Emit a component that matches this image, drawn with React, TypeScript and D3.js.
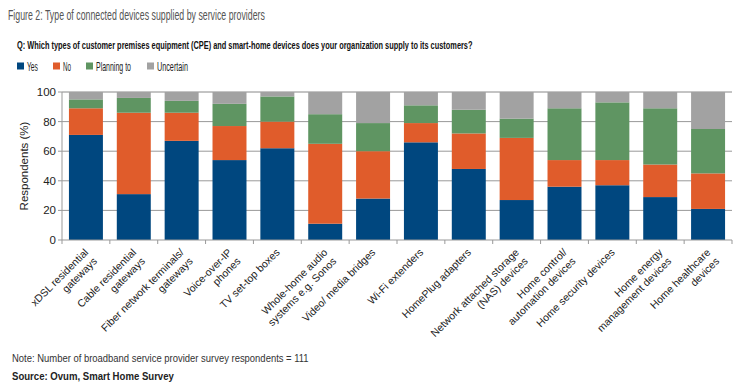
import React, { useLayoutEffect, useRef } from "react";
import * as d3 from "d3";

const categories = [
  ["xDSL residential", "gateways"],
  ["Cable residential", "gateways"],
  ["Fiber network terminals/", "gateways"],
  ["Voice-over-IP", "phones"],
  ["TV set-top boxes"],
  ["Whole-home audio", "systems e.g. Sonos"],
  ["Video/ media bridges"],
  ["Wi-Fi extenders"],
  ["HomePlug adapters"],
  ["Network attached storage", "(NAS) devices"],
  ["Home control/", "automation devices"],
  ["Home security devices"],
  ["Home energy", "management devices"],
  ["Home healthcare", "devices"],
];

const yes = [71, 31, 67, 54, 62, 11, 28, 66, 48, 27, 36, 37, 29, 21];
const no = [18, 55, 19, 23, 18, 54, 32, 13, 24, 42, 18, 17, 22, 24];
const planning = [6, 10, 8, 15, 17, 20, 19, 12, 16, 13, 35, 39, 38, 30];
const uncertain = [5, 4, 6, 8, 3, 15, 21, 9, 12, 18, 11, 7, 11, 25];

const seriesNames = ["Yes", "No", "Planning to", "Uncertain"];
const seriesColors = ["#00477f", "#e05c2b", "#5f9562", "#a2a2a2"];
const yTicks = [0, 20, 40, 60, 80, 100];

const W = 750;
const H = 385;
const margin = { left: 62, right: 18, top: 92, bottom: 145 };
const sans = "Arial, 'Liberation Sans', Helvetica, sans-serif";

// text squeezed horizontally to a given width (the source uses a narrow face)
const FitText = ({ x, y, width, children, ...rest }: any) => {
  const ref = useRef<SVGTextElement>(null);
  useLayoutEffect(() => {
    const el = ref.current;
    if (!el) return;
    el.removeAttribute("transform");
    const len = el.getComputedTextLength();
    const k = len > 0 ? width / len : 1;
    el.setAttribute("transform", `translate(${x},${y}) scale(${k},1)`);
  }, [x, y, width, children]);
  return (
    <text ref={ref} x={0} y={0} transform={`translate(${x},${y})`} fontFamily={sans} {...rest}>
      {children}
    </text>
  );
};

export default function App() {
  const rows = categories.map((c, i) => ({
    key: i,
    Yes: yes[i],
    No: no[i],
    "Planning to": planning[i],
    Uncertain: uncertain[i],
  }));

  const x = d3
    .scaleBand<number>()
    .domain(rows.map((r) => r.key))
    .range([margin.left, W - margin.right])
    .paddingInner(0.29)
    .paddingOuter(0.145);

  const y = d3
    .scaleLinear()
    .domain([0, 100])
    .range([H - margin.bottom, margin.top]);

  const stacked = d3.stack<any>().keys(seriesNames)(rows);

  const step = x.step();
  const x0 = margin.left;
  const x1 = W - margin.right;
  const y0 = y(0);

  const legendX = [17, 53, 86, 147];
  const legendW = [11, 8, 35, 31];

  return (
    <svg
      width={W}
      height={H}
      style={{ position: "absolute", left: 0, top: 0, background: "#fff" }}
    >
      <FitText x={8} y={20} width={257} fontSize={14.5} fill="#555">
        Figure 2: Type of connected devices supplied by service providers
      </FitText>
      <FitText x={17} y={49} width={456} fontWeight="bold" fontSize={11.5} fill="#111">
        Q: Which types of customer premises equipment (CPE) and smart-home devices does your organization supply to its customers?
      </FitText>

      {/* legend */}
      {seriesNames.map((name, i) => (
        <g key={name}>
          <rect x={legendX[i]} y={62.5} width={7} height={7} fill={seriesColors[i]} />
          <FitText x={legendX[i] + 10} y={70.5} width={legendW[i]} fontSize={12} fill="#222">
            {name}
          </FitText>
        </g>
      ))}

      {/* grid */}
      {yTicks.slice(1).map((t) => (
        <line key={t} x1={x0} x2={x1} y1={y(t)} y2={y(t)} stroke={t === 100 ? "#888" : "#999"} strokeWidth={1} />
      ))}

      {/* bars */}
      {stacked.map((s, si) => (
        <g key={s.key} fill={seriesColors[si]}>
          {s.map((d, i) => (
            <rect
              key={i}
              x={x(i)}
              y={y(d[1])}
              width={x.bandwidth()}
              height={y(d[0]) - y(d[1])}
            />
          ))}
        </g>
      ))}

      {/* axes */}
      <line x1={x0} x2={x0} y1={y(100)} y2={y0} stroke="#999" />
      {yTicks.map((t) => (
        <g key={t}>
          <line x1={x0 - 4} x2={x0} y1={y(t)} y2={y(t)} stroke="#999" />
          <text x={x0 - 6} y={y(t) + 4} textAnchor="end" fontFamily={sans} fontSize={11.5} fill="#222">
            {t}
          </text>
        </g>
      ))}
      <line x1={x0} x2={x1} y1={y0} y2={y0} stroke="#999" />
      {d3.range(categories.length + 1).map((i) => (
        <line key={i} x1={x0 + i * step} x2={x0 + i * step} y1={y0} y2={y0 + 4} stroke="#999" />
      ))}
      <text
        transform={`translate(28,${(y(0) + y(100)) / 2}) rotate(-90)`}
        textAnchor="middle"
        fontFamily={sans}
        fontSize={11.5}
        fill="#222"
      >
        Respondents (%)
      </text>

      {/* category labels */}
      {categories.map((lines, i) => {
        const cx = (x(i) as number) + x.bandwidth() / 2;
        return (
          <text
            key={i}
            transform={`translate(${cx + 3},${y0 + 13}) rotate(-45)`}
            textAnchor="end"
            fontFamily={sans}
            fontSize={10.5}
            fill="#222"
          >
            {lines.map((l, j) => (
              <tspan key={j} x={0} dy={j === 0 ? 0 : 12.5}>
                {l}
              </tspan>
            ))}
          </text>
        );
      })}

      <FitText x={12} y={362} width={297} fontSize={11.5} fill="#333">
        Note: Number of broadband service provider survey respondents = 111
      </FitText>
      <FitText x={12} y={380} width={162} fontWeight="bold" fontSize={11.5} fill="#222">
        Source: Ovum, Smart Home Survey
      </FitText>
    </svg>
  );
}
